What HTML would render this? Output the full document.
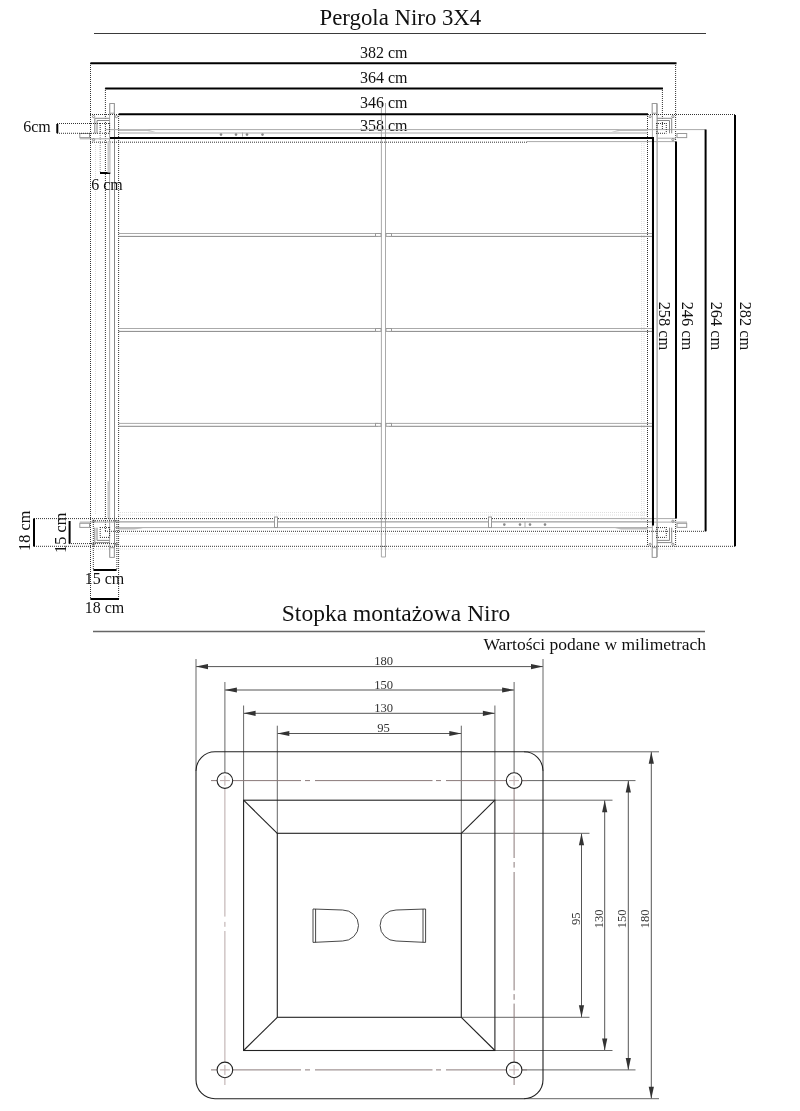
<!DOCTYPE html>
<html><head><meta charset="utf-8"><title>Pergola Niro 3X4</title><style>
html,body{margin:0;padding:0;background:#fff;overflow:hidden;}
svg{display:block;will-change:transform;}
.t{font-family:"Liberation Serif",serif;}
.t2{font-family:"Liberation Serif",serif;}
line,rect,circle,path{fill:none;}
.k{stroke:#000;stroke-width:2;}
.ul{stroke:#3a3a3a;stroke-width:1;}
.ul2{stroke:#666;stroke-width:1.3;}
.d{stroke:#333;stroke-width:1;stroke-dasharray:1 1;}
.fd{stroke:#dedede;stroke-width:1;stroke-dasharray:1 1;}
.fd2{stroke:#999;stroke-width:1;stroke-dasharray:1 1;}
.db{stroke:#333;stroke-width:1;stroke-dasharray:1.2 0.8;}
.g{stroke:#aaa;stroke-width:1;}
.g2{stroke:#888;stroke-width:1;}
.gr{stroke:#999;stroke-width:1;fill:#fff;}
.gc{stroke:#777;stroke-width:0.8;}
.gf{fill:#888;stroke:none;}
.band{fill:#ccc;stroke:none;}
.wedge{fill:#bbb;stroke:none;}
.dim{stroke:#555;stroke-width:1;}
.ext{stroke:#666;stroke-width:1;}
.ar{fill:#333;stroke:none;}
.cl{stroke:#b8a8a8;stroke-width:1;}
.cl2{stroke:#8a7a7a;stroke-width:1;}
.pl{stroke:#222;stroke-width:1.1;}
.sl{stroke:#333;stroke-width:0.9;}
</style></head>
<body><svg width="800" height="1111" viewBox="0 0 800 1111">
<text x="400.4" y="25.4" font-size="22.8" text-anchor="middle" fill="#111" class="t">Pergola Niro 3X4</text>
<line x1="94" y1="33.5" x2="706" y2="33.5" class="ul"/>
<text x="383.8" y="57.9" font-size="16" text-anchor="middle" fill="#111" class="t">382 cm</text>
<text x="383.8" y="82.7" font-size="16" text-anchor="middle" fill="#111" class="t">364 cm</text>
<text x="383.8" y="107.8" font-size="16" text-anchor="middle" fill="#111" class="t">346 cm</text>
<text x="383.8" y="131.2" font-size="16" text-anchor="middle" fill="#111" class="t">358 cm</text>
<line x1="90.5" y1="63" x2="90.5" y2="599" class="d"/>
<line x1="95.5" y1="145" x2="95.5" y2="515" class="fd"/>
<line x1="105.4" y1="88" x2="105.4" y2="531.3" class="d"/>
<line x1="109.6" y1="103.5" x2="109.6" y2="557" class="g"/>
<line x1="114.5" y1="103.5" x2="114.5" y2="557" class="g2"/>
<line x1="118.6" y1="114" x2="118.6" y2="599" class="d"/>
<line x1="641.6" y1="141" x2="641.6" y2="520" class="fd"/>
<line x1="644.0" y1="141" x2="644.0" y2="520" class="fd"/>
<line x1="647.5" y1="114" x2="647.5" y2="546.3" class="d"/>
<line x1="652.4" y1="103.5" x2="652.4" y2="557" class="g"/>
<line x1="657.1" y1="103.5" x2="657.1" y2="557" class="g2"/>
<line x1="662.4" y1="88" x2="662.4" y2="129.5" class="d"/>
<line x1="675.6" y1="63" x2="675.6" y2="141.6" class="d"/>
<line x1="675.6" y1="518" x2="675.6" y2="546.3" class="d"/>
<line x1="381.4" y1="103" x2="381.4" y2="557" class="g"/>
<line x1="385.5" y1="103" x2="385.5" y2="557" class="g"/>
<line x1="381.4" y1="557" x2="385.5" y2="557" class="g"/>
<line x1="381.4" y1="546.5" x2="385.5" y2="546.5" class="g"/>
<line x1="90" y1="114.5" x2="676" y2="114.5" class="d"/>
<line x1="105.4" y1="129.6" x2="705.6" y2="129.6" class="g"/>
<line x1="118.6" y1="133.0" x2="647.5" y2="133.0" class="g"/>
<line x1="79.8" y1="138.8" x2="110" y2="138.8" class="g"/>
<line x1="657" y1="138.2" x2="676" y2="138.2" class="g"/>
<line x1="79.8" y1="522.1" x2="114.5" y2="522.1" class="g"/>
<line x1="652.4" y1="522.1" x2="687" y2="522.1" class="g"/>
<line x1="90" y1="142.2" x2="527" y2="142.2" class="d"/>
<line x1="527" y1="141.6" x2="676" y2="141.6" class="g"/>
<line x1="118" y1="512.5" x2="647.5" y2="512.5" class="fd"/>
<line x1="118" y1="515.0" x2="647.5" y2="515.0" class="fd"/>
<line x1="34" y1="518.6" x2="526" y2="518.6" class="d"/>
<line x1="526" y1="518.6" x2="676" y2="518.6" class="g"/>
<line x1="114.5" y1="521.9" x2="652.4" y2="521.9" class="g2"/>
<line x1="93" y1="520.8" x2="116.9" y2="520.8" class="d"/>
<line x1="114.5" y1="527.6" x2="652.4" y2="527.6" class="g"/>
<line x1="105" y1="531.3" x2="705.6" y2="531.3" class="d"/>
<line x1="118" y1="534.0" x2="647.5" y2="534.0" class="fd"/>
<line x1="69" y1="543.6" x2="116.9" y2="543.6" class="d"/>
<line x1="34" y1="546.3" x2="735" y2="546.3" class="d"/>
<line x1="90" y1="549.0" x2="676" y2="549.0" class="fd"/>
<line x1="118.6" y1="233.5" x2="378" y2="233.5" class="g"/>
<line x1="118.6" y1="236.4" x2="378" y2="236.4" class="g2"/>
<line x1="389" y1="233.5" x2="652.4" y2="233.5" class="g"/>
<line x1="389" y1="236.4" x2="652.4" y2="236.4" class="g2"/>
<rect x="375.5" y="233.5" width="5.5" height="2.9" class="gr"/>
<rect x="386" y="233.5" width="5.5" height="2.9" class="gr"/>
<line x1="118.6" y1="328.5" x2="378" y2="328.5" class="g"/>
<line x1="118.6" y1="331.4" x2="378" y2="331.4" class="g2"/>
<line x1="389" y1="328.5" x2="652.4" y2="328.5" class="g"/>
<line x1="389" y1="331.4" x2="652.4" y2="331.4" class="g2"/>
<rect x="375.5" y="328.5" width="5.5" height="2.9" class="gr"/>
<rect x="386" y="328.5" width="5.5" height="2.9" class="gr"/>
<line x1="118.6" y1="423.4" x2="378" y2="423.4" class="g"/>
<line x1="118.6" y1="426.29999999999995" x2="378" y2="426.29999999999995" class="g2"/>
<line x1="389" y1="423.4" x2="652.4" y2="423.4" class="g"/>
<line x1="389" y1="426.29999999999995" x2="652.4" y2="426.29999999999995" class="g2"/>
<rect x="375.5" y="423.4" width="5.5" height="2.9" class="gr"/>
<rect x="386" y="423.4" width="5.5" height="2.9" class="gr"/>
<line x1="94.8" y1="118.3" x2="109.6" y2="118.3" class="g2"/>
<line x1="94.8" y1="118.3" x2="94.8" y2="133.3" class="g2"/>
<line x1="97.0" y1="120.5" x2="109.6" y2="120.5" class="g2"/>
<line x1="97.0" y1="120.5" x2="97.0" y2="133.3" class="g2"/>
<line x1="100.2" y1="123" x2="100.2" y2="133.3" class="d"/>
<line x1="109.6" y1="123" x2="109.6" y2="133.3" class="d"/>
<line x1="100" y1="123.5" x2="109.6" y2="123.5" class="d"/>
<line x1="100" y1="133.3" x2="109.6" y2="133.3" class="d"/>
<rect x="79.8" y="133.5" width="9.7" height="4.1" class="gr"/>
<rect x="109.8" y="103.5" width="4.5" height="9.7" class="gr"/>
<circle cx="93.6" cy="116.6" r="1.1" class="gc"/>
<circle cx="116.4" cy="116.6" r="1.1" class="gc"/>
<circle cx="93.6" cy="139.7" r="1.1" class="gc"/>
<line x1="671.7" y1="118.3" x2="656.9" y2="118.3" class="g2"/>
<line x1="671.7" y1="118.3" x2="671.7" y2="133.3" class="g2"/>
<line x1="669.5" y1="120.5" x2="656.9" y2="120.5" class="g2"/>
<line x1="669.5" y1="120.5" x2="669.5" y2="133.3" class="g2"/>
<line x1="666.3" y1="123" x2="666.3" y2="133.3" class="d"/>
<line x1="656.9" y1="123" x2="656.9" y2="133.3" class="d"/>
<line x1="656" y1="123.5" x2="666.3" y2="123.5" class="d"/>
<line x1="656" y1="133.3" x2="666.3" y2="133.3" class="d"/>
<rect x="677.0" y="133.5" width="9.7" height="4.1" class="gr"/>
<rect x="652.2" y="103.5" width="4.5" height="9.7" class="gr"/>
<circle cx="672.9" cy="116.6" r="1.1" class="gc"/>
<circle cx="650.1" cy="116.6" r="1.1" class="gc"/>
<circle cx="672.9" cy="139.7" r="1.1" class="gc"/>
<line x1="94.8" y1="542.6" x2="109.6" y2="542.6" class="g2"/>
<line x1="94.8" y1="542.6" x2="94.8" y2="527.6" class="g2"/>
<line x1="97.0" y1="540.4" x2="109.6" y2="540.4" class="g2"/>
<line x1="97.0" y1="540.4" x2="97.0" y2="527.6" class="g2"/>
<line x1="100.2" y1="527" x2="100.2" y2="537.4" class="d"/>
<line x1="109.6" y1="527" x2="109.6" y2="537.4" class="d"/>
<line x1="100" y1="537.4" x2="109.6" y2="537.4" class="d"/>
<line x1="100" y1="527.6" x2="109.6" y2="527.6" class="d"/>
<rect x="79.8" y="523.3" width="9.7" height="4.1" class="gr"/>
<rect x="109.8" y="547.7" width="4.5" height="9.7" class="gr"/>
<circle cx="93.6" cy="544.3" r="1.1" class="gc"/>
<circle cx="116.4" cy="544.3" r="1.1" class="gc"/>
<circle cx="93.6" cy="521.2" r="1.1" class="gc"/>
<line x1="671.7" y1="542.6" x2="656.9" y2="542.6" class="g2"/>
<line x1="671.7" y1="542.6" x2="671.7" y2="527.6" class="g2"/>
<line x1="669.5" y1="540.4" x2="656.9" y2="540.4" class="g2"/>
<line x1="669.5" y1="540.4" x2="669.5" y2="527.6" class="g2"/>
<line x1="666.3" y1="527" x2="666.3" y2="537.4" class="d"/>
<line x1="656.9" y1="527" x2="656.9" y2="537.4" class="d"/>
<line x1="656" y1="537.4" x2="666.3" y2="537.4" class="d"/>
<line x1="656" y1="527.6" x2="666.3" y2="527.6" class="d"/>
<rect x="677.0" y="523.3" width="9.7" height="4.1" class="gr"/>
<rect x="652.2" y="547.7" width="4.5" height="9.7" class="gr"/>
<circle cx="672.9" cy="544.3" r="1.1" class="gc"/>
<circle cx="650.1" cy="544.3" r="1.1" class="gc"/>
<circle cx="672.9" cy="521.2" r="1.1" class="gc"/>
<line x1="90.4" y1="63.2" x2="676.5" y2="63.2" class="k"/>
<line x1="105.2" y1="88.6" x2="662.9" y2="88.6" class="k"/>
<line x1="118.7" y1="114.2" x2="648" y2="114.2" class="k"/>
<line x1="110" y1="138" x2="654" y2="138" class="k"/>
<line x1="653" y1="137" x2="653" y2="525.6" class="k"/>
<line x1="676" y1="141.6" x2="676" y2="518.4" class="k"/>
<line x1="705.6" y1="129.4" x2="705.6" y2="531.3" class="k"/>
<line x1="735" y1="115" x2="735" y2="546.3" class="k"/>
<line x1="676" y1="114.5" x2="735" y2="114.5" class="d"/>
<text x="659.2" y="326" font-size="16.4" text-anchor="middle" fill="#111" class="t" transform="rotate(90 659.2 326)">258 cm</text>
<text x="681.6" y="326" font-size="16.4" text-anchor="middle" fill="#111" class="t" transform="rotate(90 681.6 326)">246 cm</text>
<text x="711.4" y="326" font-size="16.4" text-anchor="middle" fill="#111" class="t" transform="rotate(90 711.4 326)">264 cm</text>
<text x="740.4" y="326" font-size="16.4" text-anchor="middle" fill="#111" class="t" transform="rotate(90 740.4 326)">282 cm</text>
<line x1="57.3" y1="124" x2="57.3" y2="133.2" class="k"/>
<line x1="57" y1="123.5" x2="100.2" y2="123.5" class="d"/>
<line x1="57" y1="133.3" x2="100.2" y2="133.3" class="d"/>
<text x="37" y="131.8" font-size="16" text-anchor="middle" fill="#111" class="t">6cm</text>
<line x1="100.2" y1="133" x2="100.2" y2="173" class="fd2"/>
<line x1="100" y1="173" x2="110.3" y2="173" class="k"/>
<text x="106.9" y="189.7" font-size="16" text-anchor="middle" fill="#111" class="t">6 cm</text>
<line x1="34" y1="518.6" x2="34" y2="546.4" class="k"/>
<line x1="69.6" y1="521" x2="69.6" y2="543.6" class="k"/>
<text x="30.4" y="530.8" font-size="16.3" text-anchor="middle" fill="#111" class="t" transform="rotate(-90 30.4 530.8)">18 cm</text>
<text x="66.2" y="532.8" font-size="16.3" text-anchor="middle" fill="#111" class="t" transform="rotate(-90 66.2 532.8)">15 cm</text>
<line x1="93.3" y1="520" x2="93.3" y2="570" class="d"/>
<line x1="116.9" y1="520" x2="116.9" y2="570" class="d"/>
<line x1="93.4" y1="570" x2="116.6" y2="570" class="k"/>
<text x="104.5" y="584" font-size="16" text-anchor="middle" fill="#111" class="t">15 cm</text>
<line x1="90.4" y1="599" x2="119" y2="599" class="k"/>
<text x="104.5" y="613.2" font-size="16" text-anchor="middle" fill="#111" class="t">18 cm</text>
<path d="M118.6 129.2 L147 129.2 L156 132.3 L147 131 L118.6 131 Z" class="wedge"/>
<path d="M648 129.2 L620 129.2 L611 132.3 L620 131 L648 131 Z" class="wedge"/>
<path d="M118.6 529.5 L134 529.5 L143 528.2 L134 527.2 L118.6 527.2 Z" class="wedge"/>
<path d="M648 529.5 L621 529.5 L612 527.2 L621 528 L648 528 Z" class="wedge"/>
<rect x="107.5" y="141.6" width="3.1" height="31" class="band"/>
<rect x="107.5" y="481" width="2.2" height="37" class="band"/>
<circle cx="221" cy="134.6" r="1.3" class="gf"/>
<circle cx="236" cy="134.6" r="1.3" class="gf"/>
<circle cx="247" cy="134.6" r="1.3" class="gf"/>
<circle cx="262.5" cy="134.6" r="1.3" class="gf"/>
<line x1="242.5" y1="132.5" x2="242.5" y2="136.5" class="g"/>
<rect x="274.5" y="517" width="3" height="10.5" class="gr"/>
<rect x="488.5" y="517" width="3" height="10.5" class="gr"/>
<circle cx="504.3" cy="524.6" r="1.3" class="gf"/>
<circle cx="520" cy="524.6" r="1.3" class="gf"/>
<circle cx="530" cy="524.6" r="1.3" class="gf"/>
<circle cx="545" cy="524.6" r="1.3" class="gf"/>
<line x1="525" y1="522" x2="525" y2="527.5" class="g"/>
<text x="396" y="621" font-size="23.5" text-anchor="middle" fill="#111" class="t">Stopka montażowa Niro</text>
<line x1="93" y1="631.5" x2="705" y2="631.5" class="ul2"/>
<text x="706" y="650" font-size="17.5" text-anchor="end" fill="#111" class="t">Wartości podane w milimetrach</text>
<line x1="196.0" y1="666.6" x2="543.0" y2="666.6" class="dim"/>
<path d="M196.0 666.6 L208.0 664.0 L208.0 669.2 Z" class="ar"/>
<path d="M543.0 666.6 L531.0 664.0 L531.0 669.2 Z" class="ar"/>
<text x="383.6" y="664.9" font-size="12.6" text-anchor="middle" fill="#333" class="t2">180</text>
<line x1="224.9" y1="690.0" x2="514.1" y2="690.0" class="dim"/>
<path d="M224.9 690.0 L236.9 687.4 L236.9 692.6 Z" class="ar"/>
<path d="M514.1 690.0 L502.1 687.4 L502.1 692.6 Z" class="ar"/>
<text x="383.6" y="688.5" font-size="12.6" text-anchor="middle" fill="#333" class="t2">150</text>
<line x1="243.6" y1="713.3" x2="494.9" y2="713.3" class="dim"/>
<path d="M243.6 713.3 L255.6 710.6999999999999 L255.6 715.9 Z" class="ar"/>
<path d="M494.9 713.3 L482.9 710.6999999999999 L482.9 715.9 Z" class="ar"/>
<text x="383.6" y="711.7" font-size="12.6" text-anchor="middle" fill="#333" class="t2">130</text>
<line x1="277.3" y1="733.5" x2="461.3" y2="733.5" class="dim"/>
<path d="M277.3 733.5 L289.3 730.9 L289.3 736.1 Z" class="ar"/>
<path d="M461.3 733.5 L449.3 730.9 L449.3 736.1 Z" class="ar"/>
<text x="383.6" y="731.8" font-size="12.6" text-anchor="middle" fill="#333" class="t2">95</text>
<line x1="651.3" y1="751.8" x2="651.3" y2="1098.7" class="dim"/>
<path d="M651.3 751.8 L648.6999999999999 763.8 L653.9 763.8 Z" class="ar"/>
<path d="M651.3 1098.7 L648.6999999999999 1086.7 L653.9 1086.7 Z" class="ar"/>
<text x="649.2" y="918.8" font-size="12.6" text-anchor="middle" fill="#333" class="t2" transform="rotate(-90 649.2 918.8)">180</text>
<line x1="628.3" y1="780.6" x2="628.3" y2="1069.9" class="dim"/>
<path d="M628.3 780.6 L625.6999999999999 792.6 L630.9 792.6 Z" class="ar"/>
<path d="M628.3 1069.9 L625.6999999999999 1057.9 L630.9 1057.9 Z" class="ar"/>
<text x="626.2" y="918.8" font-size="12.6" text-anchor="middle" fill="#333" class="t2" transform="rotate(-90 626.2 918.8)">150</text>
<line x1="604.7" y1="800.2" x2="604.7" y2="1050.5" class="dim"/>
<path d="M604.7 800.2 L602.1 812.2 L607.3000000000001 812.2 Z" class="ar"/>
<path d="M604.7 1050.5 L602.1 1038.5 L607.3000000000001 1038.5 Z" class="ar"/>
<text x="603.0" y="918.8" font-size="12.6" text-anchor="middle" fill="#333" class="t2" transform="rotate(-90 603.0 918.8)">130</text>
<line x1="581.5" y1="833.3" x2="581.5" y2="1017.3" class="dim"/>
<path d="M581.5 833.3 L578.9 845.3 L584.1 845.3 Z" class="ar"/>
<path d="M581.5 1017.3 L578.9 1005.3 L584.1 1005.3 Z" class="ar"/>
<text x="580.0" y="918.8" font-size="12.6" text-anchor="middle" fill="#333" class="t2" transform="rotate(-90 580.0 918.8)">95</text>
<line x1="196.0" y1="659" x2="196.0" y2="771" class="ext"/>
<line x1="543.0" y1="659" x2="543.0" y2="771" class="ext"/>
<line x1="224.9" y1="682" x2="224.9" y2="772.8" class="ext"/>
<line x1="514.1" y1="682" x2="514.1" y2="772.8" class="ext"/>
<line x1="243.6" y1="705.5" x2="243.6" y2="800.2" class="ext"/>
<line x1="494.9" y1="705.5" x2="494.9" y2="800.2" class="ext"/>
<line x1="277.3" y1="725.7" x2="277.3" y2="833.3" class="ext"/>
<line x1="461.3" y1="725.7" x2="461.3" y2="833.3" class="ext"/>
<line x1="524" y1="751.8" x2="659" y2="751.8" class="ext"/>
<line x1="524" y1="1098.7" x2="659" y2="1098.7" class="ext"/>
<line x1="521.9" y1="780.6" x2="635.5" y2="780.6" class="ext"/>
<line x1="521.9" y1="1069.9" x2="635.5" y2="1069.9" class="ext"/>
<line x1="494.9" y1="800.2" x2="612.5" y2="800.2" class="ext"/>
<line x1="494.9" y1="1050.5" x2="612.5" y2="1050.5" class="ext"/>
<line x1="461.3" y1="833.3" x2="589.5" y2="833.3" class="ext"/>
<line x1="461.3" y1="1017.3" x2="589.5" y2="1017.3" class="ext"/>
<line x1="211" y1="780.6" x2="217" y2="780.6" class="cl2"/>
<line x1="232.7" y1="780.6" x2="301" y2="780.6" class="cl2"/>
<line x1="305" y1="780.6" x2="310" y2="780.6" class="cl2"/>
<line x1="315" y1="780.6" x2="432.5" y2="780.6" class="cl2"/>
<line x1="436" y1="780.6" x2="441" y2="780.6" class="cl2"/>
<line x1="446" y1="780.6" x2="506.3" y2="780.6" class="cl2"/>
<line x1="522" y1="780.6" x2="527" y2="780.6" class="cl2"/>
<line x1="211" y1="1069.9" x2="217" y2="1069.9" class="cl2"/>
<line x1="232.7" y1="1069.9" x2="301" y2="1069.9" class="cl2"/>
<line x1="305" y1="1069.9" x2="310" y2="1069.9" class="cl2"/>
<line x1="315" y1="1069.9" x2="432.5" y2="1069.9" class="cl2"/>
<line x1="436" y1="1069.9" x2="441" y2="1069.9" class="cl2"/>
<line x1="446" y1="1069.9" x2="506.3" y2="1069.9" class="cl2"/>
<line x1="522" y1="1069.9" x2="527" y2="1069.9" class="cl2"/>
<line x1="224.9" y1="788.4" x2="224.9" y2="916.6" class="cl"/>
<line x1="224.9" y1="921.9" x2="224.9" y2="926.8" class="cl"/>
<line x1="224.9" y1="931" x2="224.9" y2="1062.1" class="cl"/>
<line x1="224.9" y1="1077.7" x2="224.9" y2="1085" class="cl"/>
<line x1="514.1" y1="788.4" x2="514.1" y2="858" class="cl2"/>
<line x1="514.1" y1="862" x2="514.1" y2="867.6" class="cl2"/>
<line x1="514.1" y1="872" x2="514.1" y2="990.4" class="cl2"/>
<line x1="514.1" y1="994.1" x2="514.1" y2="999.8" class="cl2"/>
<line x1="514.1" y1="1003.6" x2="514.1" y2="1062.1" class="cl2"/>
<line x1="514.1" y1="1077.7" x2="514.1" y2="1085" class="cl2"/>
<line x1="219.9" y1="780.6" x2="229.9" y2="780.6" class="cl"/>
<line x1="224.9" y1="775.6" x2="224.9" y2="785.6" class="cl"/>
<circle cx="224.9" cy="780.6" r="7.8" class="pl"/>
<line x1="219.9" y1="1069.9" x2="229.9" y2="1069.9" class="cl"/>
<line x1="224.9" y1="1064.9" x2="224.9" y2="1074.9" class="cl"/>
<circle cx="224.9" cy="1069.9" r="7.8" class="pl"/>
<line x1="509.1" y1="780.6" x2="519.1" y2="780.6" class="cl"/>
<line x1="514.1" y1="775.6" x2="514.1" y2="785.6" class="cl"/>
<circle cx="514.1" cy="780.6" r="7.8" class="pl"/>
<line x1="509.1" y1="1069.9" x2="519.1" y2="1069.9" class="cl"/>
<line x1="514.1" y1="1064.9" x2="514.1" y2="1074.9" class="cl"/>
<circle cx="514.1" cy="1069.9" r="7.8" class="pl"/>
<rect x="196.0" y="751.8" width="347.0" height="346.9000000000001" rx="19" ry="19" class="pl"/>
<rect x="243.6" y="800.2" width="251.3" height="250.3" class="pl"/>
<rect x="277.3" y="833.3" width="184.0" height="184.0" class="pl"/>
<line x1="243.6" y1="800.2" x2="277.3" y2="833.3" class="pl"/>
<line x1="494.9" y1="800.2" x2="461.3" y2="833.3" class="pl"/>
<line x1="243.6" y1="1050.5" x2="277.3" y2="1017.3" class="pl"/>
<line x1="494.9" y1="1050.5" x2="461.3" y2="1017.3" class="pl"/>
<path d="M313 909 L342.5 910 A16 15.5 0 0 1 342.5 941 L313 942.4 Z M315.6 909 L315.6 942.4" class="sl"/>
<path d="M425.6 909 L396.1 910 A16 15.5 0 0 0 396.1 941 L425.6 942.4 Z M423 909 L423 942.4" class="sl"/>
</svg></body></html>
